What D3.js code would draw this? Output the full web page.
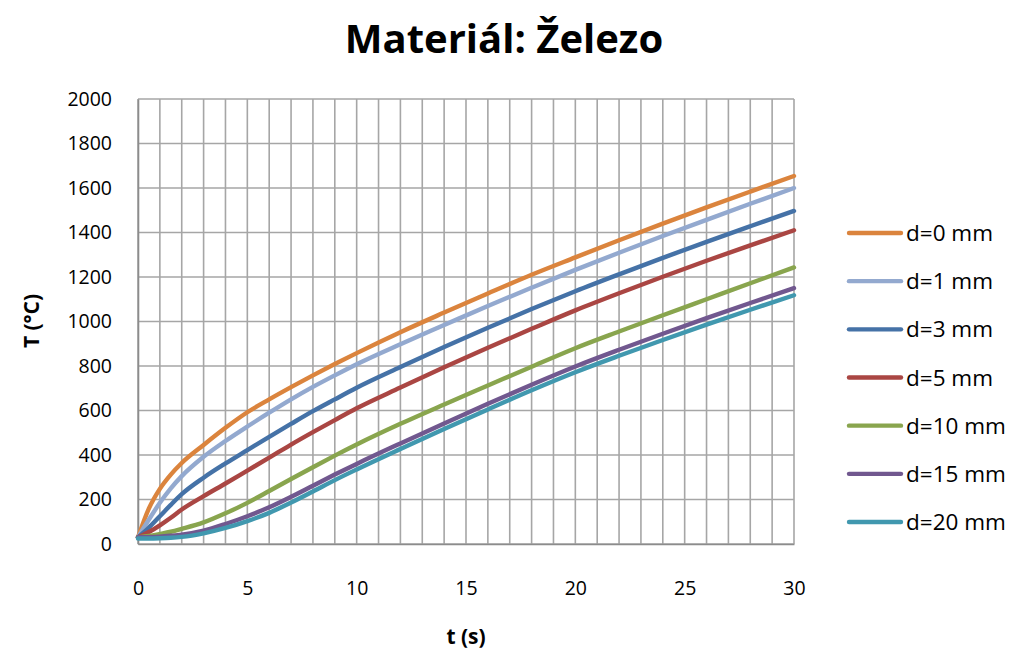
<!DOCTYPE html>
<html>
<head>
<meta charset="utf-8">
<script src="https://cdn.jsdelivr.net/npm/d3@7/dist/d3.min.js"></script>
<style>
  html, body { margin: 0; padding: 0; background: #ffffff; }
  svg { display: block; font-family: "Open Sans", Lato, sans-serif; }
</style>
</head>
<body>
<svg id="chart" width="1012" height="653"></svg>
<script>
// Time samples (s)
const times = [0, 0.5, 1, 1.5, 2, 3, 4, 5, 6, 7, 8, 9, 10, 12, 14, 16, 18, 20, 22, 24, 26, 28, 30];

// Temperature (°C) at each depth below the heated surface
const depth0mm  = [30, 160, 248, 312, 364, 445, 522, 592, 650, 705, 758, 809, 858, 952, 1040, 1126, 1210, 1288, 1365, 1440, 1513, 1584, 1654];
const depth1mm  = [30, 110, 185, 250, 305, 392, 463, 528, 590, 650, 706, 758, 808, 898, 984, 1070, 1152, 1232, 1309, 1384, 1457, 1529, 1600];
const depth3mm  = [30, 74, 125, 176, 224, 298, 362, 422, 482, 540, 597, 650, 702, 795, 885, 972, 1056, 1136, 1212, 1286, 1358, 1428, 1497];
const depth5mm  = [30, 54, 84, 118, 155, 215, 272, 330, 388, 447, 503, 557, 610, 703, 794, 882, 967, 1050, 1127, 1201, 1273, 1342, 1410];
const depth10mm = [30, 36, 45, 55, 68, 97, 138, 185, 238, 292, 345, 397, 447, 540, 627, 712, 797, 880, 955, 1028, 1100, 1172, 1243];
const depth15mm = [30, 31, 33, 37, 42, 60, 90, 125, 165, 212, 262, 312, 360, 452, 542, 630, 716, 798, 873, 945, 1015, 1083, 1150];
const depth20mm = [25, 25, 26, 28, 32, 48, 72, 103, 140, 186, 236, 287, 335, 427, 517, 605, 691, 772, 846, 917, 986, 1053, 1118];

const seriesNames = ["d=0 mm", "d=1 mm", "d=3 mm", "d=5 mm", "d=10 mm", "d=15 mm", "d=20 mm"];
const seriesValues = [depth0mm, depth1mm, depth3mm, depth5mm, depth10mm, depth15mm, depth20mm];
const seriesColors = ["#DB843D", "#93A9CF", "#4572A7", "#AA4643", "#89A54E", "#71588F", "#4198AF"];

const xTicks = [0, 5, 10, 15, 20, 25, 30];
const yTicks = [0, 200, 400, 600, 800, 1000, 1200, 1400, 1600, 1800, 2000];

const titleText = "Materiál: Železo";
const xTitle = "t (s)";
const yTitle = "T (°C)";

const svg = d3.select("#chart");
const plot = { left: 138, right: 794, top: 99, bottom: 544 };

const x = d3.scaleLinear().domain([0, 30]).range([plot.left, plot.right]);
const y = d3.scaleLinear().domain([0, 2000]).range([plot.bottom, plot.top]);

// Grid: one vertical line per second, horizontal every 200 °C
const gridColor = "#a6a6a6";
const g = svg.append("g");
g.selectAll("line.v").data(d3.range(0, 31, 1)).enter().append("line")
  .attr("x1", d => x(d)).attr("x2", d => x(d))
  .attr("y1", plot.top).attr("y2", plot.bottom)
  .attr("stroke", gridColor).attr("stroke-width", 1.6);
g.selectAll("line.h").data(yTicks).enter().append("line")
  .attr("x1", plot.left).attr("x2", plot.right)
  .attr("y1", d => y(d)).attr("y2", d => y(d))
  .attr("stroke", gridColor).attr("stroke-width", 1.6);

// Axes (labels only; the frame comes from the grid)
const xAxis = d3.axisBottom(x).tickValues(xTicks).tickSize(0).tickPadding(0).tickFormat(d3.format("d"));
const xa = svg.append("g").attr("transform", `translate(0,${plot.bottom})`).call(xAxis);
xa.select(".domain").attr("stroke", "#8c8c8c").attr("stroke-width", 1.6);
xa.selectAll("text").attr("dy", null).attr("y", 51).attr("font-size", 19.5).attr("fill", "#000")
  .attr("font-family", "'Open Sans', Lato, sans-serif");

const yAxis = d3.axisLeft(y).tickValues(yTicks).tickSize(0).tickPadding(26).tickFormat(d3.format("d"));
const ya = svg.append("g").attr("transform", `translate(${plot.left},0)`).call(yAxis);
ya.select(".domain").attr("stroke", "#8c8c8c").attr("stroke-width", 1.6);
ya.selectAll("text").attr("font-size", 19.5).attr("fill", "#000")
  .attr("font-family", "'Open Sans', Lato, sans-serif");

// Series lines
const line = d3.line()
  .x((d, i) => x(times[i]))
  .y(d => y(d))
  .curve(d3.curveMonotoneX);

svg.append("g").selectAll("path").data(seriesValues).enter().append("path")
  .attr("d", d => line(d))
  .attr("fill", "none")
  .attr("stroke", (d, i) => seriesColors[i])
  .attr("stroke-width", 4.4)
  .attr("stroke-linejoin", "round")
  .attr("stroke-linecap", "round");

// Title and axis titles
svg.append("text").attr("x", 504).attr("y", 53).attr("text-anchor", "middle")
  .attr("font-size", 40).attr("font-weight", "bold").text(titleText);
svg.append("text").attr("x", 466).attr("y", 644).attr("text-anchor", "middle")
  .attr("font-size", 21).attr("font-weight", "bold").text(xTitle);
svg.append("text").attr("transform", "translate(39,321) rotate(-90)").attr("text-anchor", "middle")
  .attr("font-size", 21).attr("font-weight", "bold").text(yTitle);

// Legend
const legend = svg.append("g");
const rowY = d3.scalePoint().domain(seriesNames).range([233, 522]);
seriesNames.forEach((name, i) => {
  const yy = rowY(name);
  legend.append("line").attr("x1", 849).attr("x2", 901).attr("y1", yy).attr("y2", yy)
    .attr("stroke", seriesColors[i]).attr("stroke-width", 4.4).attr("stroke-linecap", "round");
  legend.append("text").attr("x", 906).attr("y", yy).attr("dy", "0.36em")
    .attr("font-size", 22.5).text(name);
});
</script>
</body>
</html>
